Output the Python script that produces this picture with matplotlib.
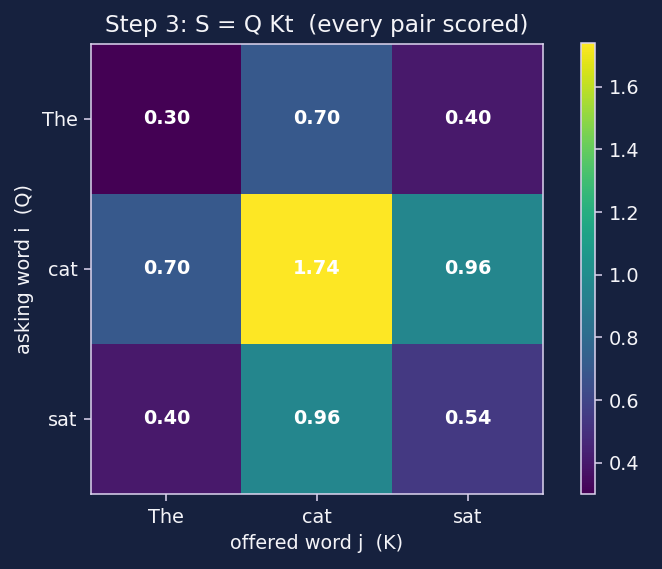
import numpy as np
import matplotlib.pyplot as plt

words = ["The", "cat", "sat"]
# scores S = Q K^T
scores = [
    [0.30, 0.70, 0.40],
    [0.70, 1.74, 0.96],
    [0.40, 0.96, 0.54],
]

bg = "#16213e"
fg = "#f4f4f8"
edge = "#dcd4ee"
k = 1.39  # scale of the source render

S = np.array(scores)

fig = plt.figure(figsize=(6.62, 5.69), dpi=100, facecolor=bg)
ax = fig.add_axes([91 / 662, 1 - 494 / 569, 452 / 662, 450 / 569])
cax = fig.add_axes([581 / 662, 1 - 494 / 569, 14 / 662, 451 / 569])
ax.set_facecolor(bg)

im = ax.imshow(S, cmap="viridis", aspect="auto")
for i in range(S.shape[0]):
    for j in range(S.shape[1]):
        ax.text(j, i, f"{S[i, j]:.2f}", ha="center", va="center",
                color="white", fontsize=10 * k, fontweight="bold")

ax.set_xticks(range(len(words)))
ax.set_xticklabels(words)
ax.set_yticks(range(len(words)))
ax.set_yticklabels(words)
ax.set_xlabel("offered word j  (K)", color=fg, fontsize=10 * k, labelpad=4 * k)
ax.set_ylabel("asking word i  (Q)", color=fg, fontsize=10 * k, labelpad=4 * k)
ax.set_title("Step 3: S = Q Kt  (every pair scored)", color=fg, fontsize=12 * k, pad=6 * k)
ax.tick_params(colors=edge, labelcolor=fg, labelsize=10 * k,
               length=3.5 * k, width=0.8 * k, pad=3.5 * k)
for s in ax.spines.values():
    s.set_color(edge)
    s.set_linewidth(0.8 * k)

cb = fig.colorbar(im, cax=cax)
cb.outline.set_edgecolor(edge)
cb.outline.set_linewidth(0.8 * k)
cb.ax.tick_params(colors=edge, labelcolor=fg, labelsize=10 * k,
                  length=3.5 * k, width=0.8 * k, pad=3.5 * k)

fig.savefig("out.png", facecolor=bg)
